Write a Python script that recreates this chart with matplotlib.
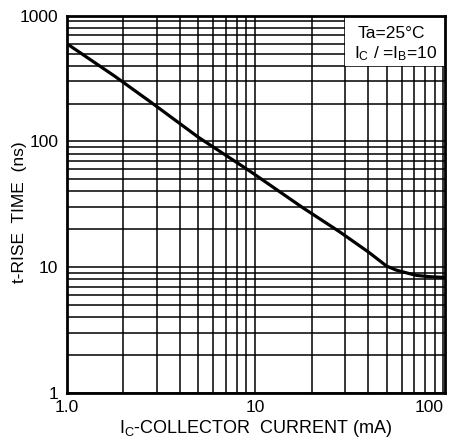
import matplotlib.pyplot as plt
from matplotlib.patches import Rectangle

plt.rcParams['font.family'] = ['Liberation Sans', 'DejaVu Sans']

# collector current (mA) vs rise time (ns)
ic_ma = [1.0, 1.8, 2.8, 5.0, 9.4, 18, 28.3, 40, 50, 56, 64, 72, 85, 100, 102]
t_rise = [600, 330, 205, 108, 58, 29.6, 19, 13.2, 10.2, 9.5, 9.0, 8.6, 8.4, 8.3, 8.3]

x_ticks = [1, 10, 100]
x_tick_labels = ['1.0', '10', '100']
y_ticks = [1, 10, 100, 1000]
y_tick_labels = ['1', '10', '100', '1000']

fig = plt.figure(figsize=(4.49, 4.42), dpi=100)
ax = fig.add_axes([0.1486, 0.111, 0.8424, 0.8535])

ax.set_xscale('log')
ax.set_yscale('log')
ax.set_xlim(1, 102)
ax.set_ylim(1, 1000)

ax.grid(True, which='both', color='black', linewidth=1.1)
ax.set_axisbelow(True)

# white box behind the conditions text
ax.add_patch(Rectangle((30, 400), 72, 600, facecolor='white', edgecolor='none', zorder=1.5))

ax.plot(ic_ma, t_rise, color='black', linewidth=2.3, zorder=3)

ax.set_xticks(x_ticks)
ax.set_xticklabels(x_tick_labels)
ax.set_yticks(y_ticks)
ax.set_yticklabels(y_tick_labels)
ax.xaxis.set_minor_formatter(plt.NullFormatter())
ax.yaxis.set_minor_formatter(plt.NullFormatter())
ax.tick_params(which='both', length=0, labelsize=12.5)
ax.tick_params(axis='x', pad=5)
ax.tick_params(axis='y', pad=6)
ax.get_xticklabels()[-1].set_horizontalalignment('right')

for sp in ax.spines.values():
    sp.set_linewidth(2.0)
    sp.set_zorder(4)

ax.set_xlabel('I$\\mathregular{_C}$-COLLECTOR  CURRENT (mA)', fontsize=13, labelpad=2)
ax.set_ylabel('t-RISE  TIME  (ns)', fontsize=12.5)
ax.yaxis.set_label_coords(-0.105, 0.48)

ax.text(0.858, 0.954, 'Ta=25°C', transform=ax.transAxes, fontsize=12.5,
        ha='center', va='center', zorder=5)
ax.text(0.87, 0.899, 'I$\\mathregular{_C}$ / =I$\\mathregular{_B}$=10', transform=ax.transAxes,
        fontsize=12.5, ha='center', va='center', zorder=5)

fig.savefig('out.png', dpi=100)
